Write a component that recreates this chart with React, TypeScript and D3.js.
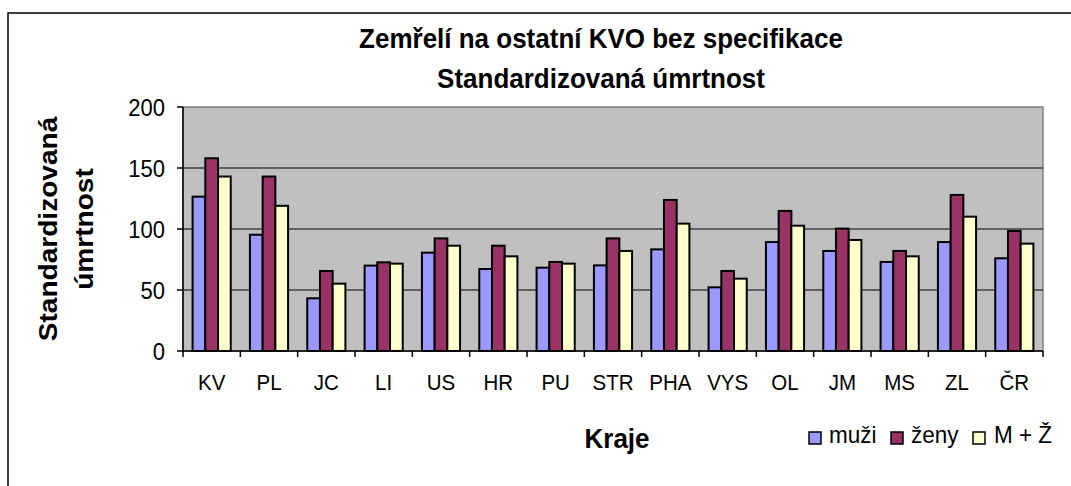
import React from "react";
import * as d3 from "d3";

const categories = ["KV", "PL", "JC", "LI", "US", "HR", "PU", "STR", "PHA", "VYS", "OL", "JM", "MS", "ZL", "ČR"];
const seriesNames = ["muži", "ženy", "M + Ž"];
const muzi = [126.5, 95.3, 43.2, 70, 80.6, 67.2, 68.3, 70.2, 83.3, 52.2, 89.3, 82, 73, 89.3, 76];
const zeny = [158, 143, 65.6, 72.7, 92.3, 86.3, 73, 92.3, 123.8, 65.6, 114.8, 100.3, 82, 127.9, 98.4];
const mz = [143, 119, 55.2, 71.6, 86.3, 77.6, 71.6, 82, 104.4, 59.3, 102.7, 91, 77.6, 110.1, 88];
const yTicks = [0, 50, 100, 150, 200];
const colors = ["#9999FF", "#993366", "#FFFFCC"];

const W = 1071;
const H = 486;
const L = 183, R = 1043, T = 107, B = 351;
const FONT = "Arial, 'Liberation Sans', Helvetica, sans-serif";
const SY = 1.08;

function HText(props: { x: number; y: number; size: number; bold?: boolean; anchor?: string; children: React.ReactNode; dy?: string }) {
  const { x, y, size, bold, anchor, children, dy } = props;
  return (
    <text
      transform={`translate(${x},${y}) scale(1,${SY})`}
      dy={dy}
      textAnchor={anchor || "start"}
      fontSize={size}
      fontWeight={bold ? "bold" : "normal"}
      fill="#000"
    >
      {children}
    </text>
  );
}

export default function App() {
  const series = [muzi, zeny, mz];
  const x0 = d3.scaleBand<string>().domain(categories).range([L, R]).padding(0);
  const x1 = d3.scaleBand<string>().domain(seriesNames).range([0, x0.bandwidth()]).paddingInner(0).paddingOuter(0.755);
  const y = d3.scaleLinear().domain([0, 200]).range([B, T]);

  const legendItems = [
    { name: seriesNames[0], sx: 809, tx: 829 },
    { name: seriesNames[1], sx: 891, tx: 911 },
    { name: seriesNames[2], sx: 973, tx: 994 },
  ];

  return (
    <svg width={W} height={H} style={{ position: "absolute", left: 0, top: 0, display: "block" }} fontFamily={FONT}>
      <rect x={0} y={0} width={W} height={H} fill="#fff" />
      <rect x={8} y={13} width={W + 20} height={H + 20} fill="#fff" stroke="#000" strokeWidth={1.5} />
      {/* plot area */}
      <rect x={L} y={T} width={R - L} height={B - T} fill="#C0C0C0" stroke="#808080" strokeWidth={1.5} />
      {yTicks.filter((t) => t > 0 && t < 200).map((t) => (
        <line key={t} x1={L} x2={R} y1={y(t)} y2={y(t)} stroke="#000" strokeWidth={1.2} />
      ))}
      {/* bars */}
      {categories.map((c, i) => (
        <g key={c}>
          {series.map((s, j) => (
            <rect
              key={j}
              x={(x0(c) as number) + (x1(seriesNames[j]) as number)}
              y={y(s[i])}
              width={x1.bandwidth()}
              height={y(0) - y(s[i])}
              fill={colors[j]}
              stroke="#000"
              strokeWidth={2}
            />
          ))}
        </g>
      ))}
      {/* axes */}
      <line x1={L} x2={L} y1={T} y2={B} stroke="#000" strokeWidth={1.5} />
      <line x1={L} x2={R} y1={B} y2={B} stroke="#000" strokeWidth={1.5} />
      {yTicks.map((t) => (
        <g key={t}>
          <line x1={L - 6} x2={L} y1={y(t)} y2={y(t)} stroke="#000" strokeWidth={1.5} />
          <HText x={165} y={y(t)} dy="0.36em" anchor="end" size={22}>{t}</HText>
        </g>
      ))}
      {categories.map((c) => (
        <line key={"t" + c} x1={x0(c) as number} x2={x0(c) as number} y1={B} y2={B + 6} stroke="#000" strokeWidth={1.5} />
      ))}
      <line x1={R} x2={R} y1={B} y2={B + 6} stroke="#000" strokeWidth={1.5} />
      {categories.map((c) => (
        <HText key={"l" + c} x={(x0(c) as number) + x0.bandwidth() / 2} y={390} anchor="middle" size={20.5}>{c}</HText>
      ))}
      {/* titles */}
      <HText x={601} y={48} anchor="middle" size={26} bold>Zemřelí na ostatní KVO bez specifikace</HText>
      <HText x={601} y={88} anchor="middle" size={26} bold>Standardizovaná úmrtnost</HText>
      <text transform={`translate(57,229) rotate(-90) scale(${SY},1)`} textAnchor="middle" fontSize={26} fontWeight="bold" fill="#000">Standardizovaná</text>
      <text transform={`translate(93,229) rotate(-90) scale(${SY},1)`} textAnchor="middle" fontSize={26} fontWeight="bold" fill="#000">úmrtnost</text>
      <HText x={617} y={448} anchor="middle" size={26} bold>Kraje</HText>
      {/* legend */}
      {legendItems.map((it, j) => (
        <g key={it.name}>
          <rect x={it.sx} y={432} width={12} height={12} fill={colors[j]} stroke="#000" strokeWidth={1.5} />
          <HText x={it.tx} y={443} size={22.5}>{it.name}</HText>
        </g>
      ))}
    </svg>
  );
}
